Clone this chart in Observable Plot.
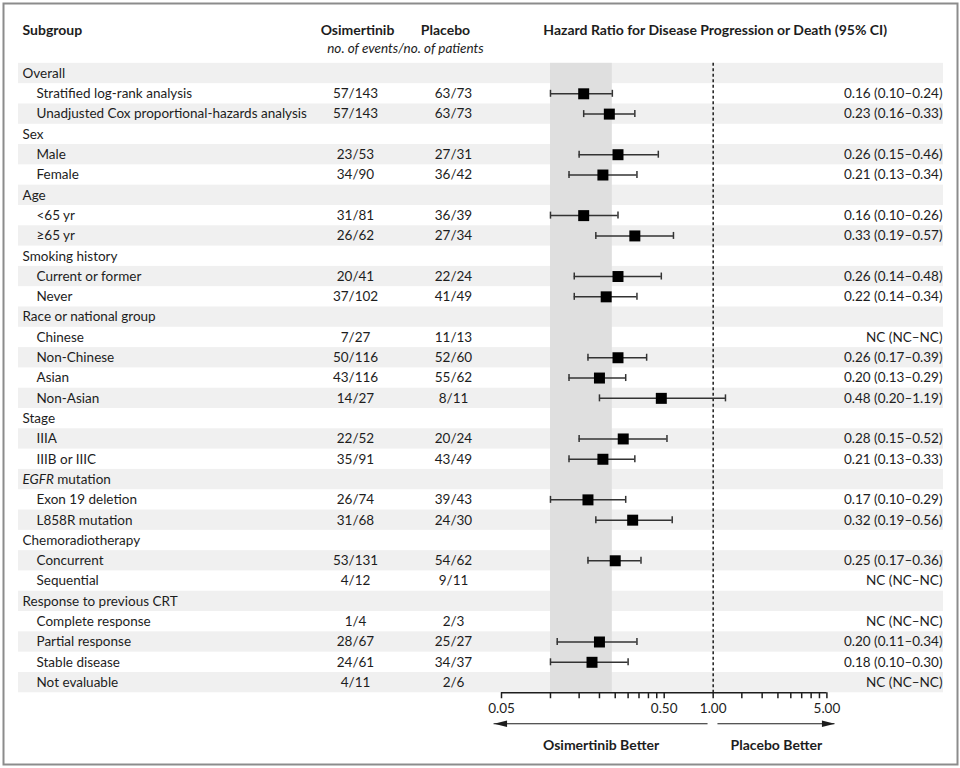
<!DOCTYPE html>
<html><head><meta charset="utf-8">
<script src="https://cdn.jsdelivr.net/npm/d3@7"></script>
<script src="https://cdn.jsdelivr.net/npm/@observablehq/plot@0.6"></script>
<style>body{margin:0;background:#fff} svg{display:block}</style>
</head><body><div id="chart"></div>
<script>
// ---------- data ----------
const labels = ["Overall","Stratified log-rank analysis","Unadjusted Cox proportional-hazards analysis",
  "Sex","Male","Female","Age","<65 yr","≥65 yr","Smoking history","Current or former","Never",
  "Race or national group","Chinese","Non-Chinese","Asian","Non-Asian","Stage","IIIA","IIIB or IIIC",
  "EGFR mutation","Exon 19 deletion","L858R mutation","Chemoradiotherapy","Concurrent","Sequential",
  "Response to previous CRT","Complete response","Partial response","Stable disease","Not evaluable"];
const level = [0,1,1,0,1,1,0,1,1,0,1,1,0,1,1,1,1,0,1,1,0,1,1,0,1,1,0,1,1,1,1];
const osimertinib = ["","57/143","57/143","","23/53","34/90","","31/81","26/62","","20/41","37/102","",
  "7/27","50/116","43/116","14/27","","22/52","35/91","","26/74","31/68","","53/131","4/12","","1/4","28/67","24/61","4/11"];
const placebo = ["","63/73","63/73","","27/31","36/42","","36/39","27/34","","22/24","41/49","",
  "11/13","52/60","55/62","8/11","","20/24","43/49","","39/43","24/30","","54/62","9/11","","2/3","25/27","34/37","2/6"];
const hr =     [null,0.16,0.23,null,0.26,0.21,null,0.16,0.33,null,0.26,0.22,null,null,0.26,0.20,0.48,null,0.28,0.21,null,0.17,0.32,null,0.25,null,null,null,0.20,0.18,null];
const ciLow =  [null,0.10,0.16,null,0.15,0.13,null,0.10,0.19,null,0.14,0.14,null,null,0.17,0.13,0.20,null,0.15,0.13,null,0.10,0.19,null,0.17,null,null,null,0.11,0.10,null];
const ciHigh = [null,0.24,0.33,null,0.46,0.34,null,0.26,0.57,null,0.48,0.34,null,null,0.39,0.29,1.19,null,0.52,0.33,null,0.29,0.56,null,0.36,null,null,null,0.34,0.30,null];
const axisTicks = [0.05,0.1,0.15,0.2,0.25,0.3,0.35,0.4,0.45,0.5,1,1.5,2,2.5,3,3.5,4,4.5,5];
const axisLabels = [0.05,0.5,1,5];
const arrowFrom = [0.93, 1.07];
const arrowTo = [0.045, 5.6];
const arrowText = ["Osimertinib Better","Placebo Better"];
const title = "Hazard Ratio for Disease Progression or Death (95% CI)";

// ---------- derived tables ----------
const rows = labels.map((label, i) => ({
  i, label, level: level[i], osi: osimertinib[i], pla: placebo[i],
  hr: hr[i], lo: ciLow[i], hi: ciHigh[i],
  hrText: level[i] === 0 ? "" : (hr[i] == null ? "NC (NC–NC)" :
    `${hr[i].toFixed(2)} (${ciLow[i].toFixed(2)}–${ciHigh[i].toFixed(2)})`)
}));
const n = rows.length;
const withHR = rows.filter(d => d.hr != null);
const subs = rows.filter(d => d.level === 1);
const heads = rows.filter(d => d.level === 0);
const axisY = n - 0.5;
const arrows = arrowFrom.map((f, k) => ({from: f, to: arrowTo[k], text: arrowText[k], mid: Math.sqrt(f * arrowTo[k])}));
const overall = withHR[0];

const ink = "#1d1d1d";
const fs = 13.5, fsB = 14;
const arrowHead = {draw(ctx){ ctx.moveTo(0,0); ctx.lineTo(-13,-3.2); ctx.lineTo(-13,3.2); ctx.closePath(); }};

const chart = Plot.plot({
  width: 960, height: 768,
  marginTop: 0, marginLeft: 0, marginRight: 0, marginBottom: 0,
  x: {type: "log", domain: [0.05, 5], range: [501, 826.4], axis: null},
  y: {domain: [0, n - 1], range: [73, 682.1], axis: null},
  style: {fontFamily: "Lato, 'Open Sans', sans-serif", fontSize: fs + "px", color: ink, background: "#fff"},
  marks: [
    Plot.frame({stroke: "#8c8c8c", strokeWidth: 2, insetLeft: 3, insetRight: 3, insetTop: 3, insetBottom: 4}),
    // alternating row bands
    Plot.rect(rows.filter(d => d.i % 2 === 0), {y1: d => d.i - 0.5, y2: d => d.i + 0.5, fill: "#f0f0f0", insetLeft: 18, insetRight: 17}),
    // shaded overall CI column
    Plot.rect([overall], {x1: "lo", x2: "hi", y1: -0.5, y2: axisY, fill: "#dfdfdf"}),
    // null line
    Plot.ruleX([1], {y1: -0.5, y2: axisY, stroke: ink, strokeWidth: 1.5, strokeDasharray: "3,2.5"}),
    // CIs
    Plot.ruleY(withHR, {y: "i", x1: "lo", x2: "hi", stroke: "#333", strokeWidth: 1.5}),
    Plot.ruleX(withHR, {x: "lo", y1: "i", y2: "i", insetTop: -3.5, insetBottom: -3.5, stroke: "#333", strokeWidth: 1.5}),
    Plot.ruleX(withHR, {x: "hi", y1: "i", y2: "i", insetTop: -3.5, insetBottom: -3.5, stroke: "#333", strokeWidth: 1.5}),
    Plot.dot(withHR, {x: "hr", y: "i", symbol: "square", r: 6.2, fill: "#000", stroke: "none"}),
    // axis
    Plot.ruleY([axisY], {x1: axisTicks[0], x2: axisTicks[axisTicks.length - 1], stroke: ink, strokeWidth: 1.5}),
    Plot.ruleX(axisTicks, {x: d => d, y1: axisY, y2: axisY, insetBottom: -6, stroke: ink, strokeWidth: 1.5}),
    Plot.text(axisLabels, {x: d => d, y: axisY, dy: 16, text: d => d.toFixed(2), fontSize: fs}),
    // arrows
    Plot.ruleY(arrows, {x1: "from", x2: "to", y: axisY, dy: 31, stroke: ink, strokeWidth: 1.2}),
    Plot.dot(arrows, {x: "to", y: axisY, dy: 31, symbol: arrowHead, rotate: d => d.to < d.from ? 180 : 0, fill: ink, stroke: "none"}),
    Plot.text(arrows, {x: "mid", y: axisY, dy: 53, text: "text", fontWeight: "bold", fontSize: fsB}),
    // headers
    Plot.text(["Subgroup"], {frameAnchor: "top-left", dx: 22, dy: 30, lineAnchor: "middle", textAnchor: "start", fontWeight: "bold", fontSize: fsB}),
    Plot.text(["Osimertinib"], {frameAnchor: "top-left", dx: 357, dy: 30, lineAnchor: "middle", textAnchor: "middle", fontWeight: "bold", fontSize: fsB}),
    Plot.text(["Placebo"], {frameAnchor: "top-left", dx: 445, dy: 30, lineAnchor: "middle", textAnchor: "middle", fontWeight: "bold", fontSize: fsB}),
    Plot.text(["no. of events/no. of patients"], {frameAnchor: "top-left", dx: 405, dy: 48, lineAnchor: "middle", textAnchor: "middle", fontStyle: "italic"}),
    Plot.text([title], {x: 1, frameAnchor: "top", dx: 2, dy: 30, lineAnchor: "middle", textAnchor: "middle", fontWeight: "bold", fontSize: fsB}),
    // row texts
    Plot.text(heads, {y: "i", text: "label", frameAnchor: "left", textAnchor: "start", dx: 22}),
    Plot.text(subs, {y: "i", text: "label", frameAnchor: "left", textAnchor: "start", dx: 36}),
    Plot.text(subs, {y: "i", text: "osi", frameAnchor: "left", textAnchor: "middle", dx: 355}),
    Plot.text(subs, {y: "i", text: "pla", frameAnchor: "left", textAnchor: "middle", dx: 453}),
    Plot.text(subs, {y: "i", text: "hrText", frameAnchor: "right", textAnchor: "end", dx: -18})
  ]
});

// italicise the gene name in "EGFR mutation"
d3.select(chart).selectAll("text").each(function () {
  if (this.textContent === "EGFR mutation") {
    const t = d3.select(this);
    t.text(null);
    t.append("tspan").attr("font-style", "italic").text("EGFR");
    t.append("tspan").text(" mutation");
  }
});
document.getElementById("chart").append(chart);
</script>
</body></html>
